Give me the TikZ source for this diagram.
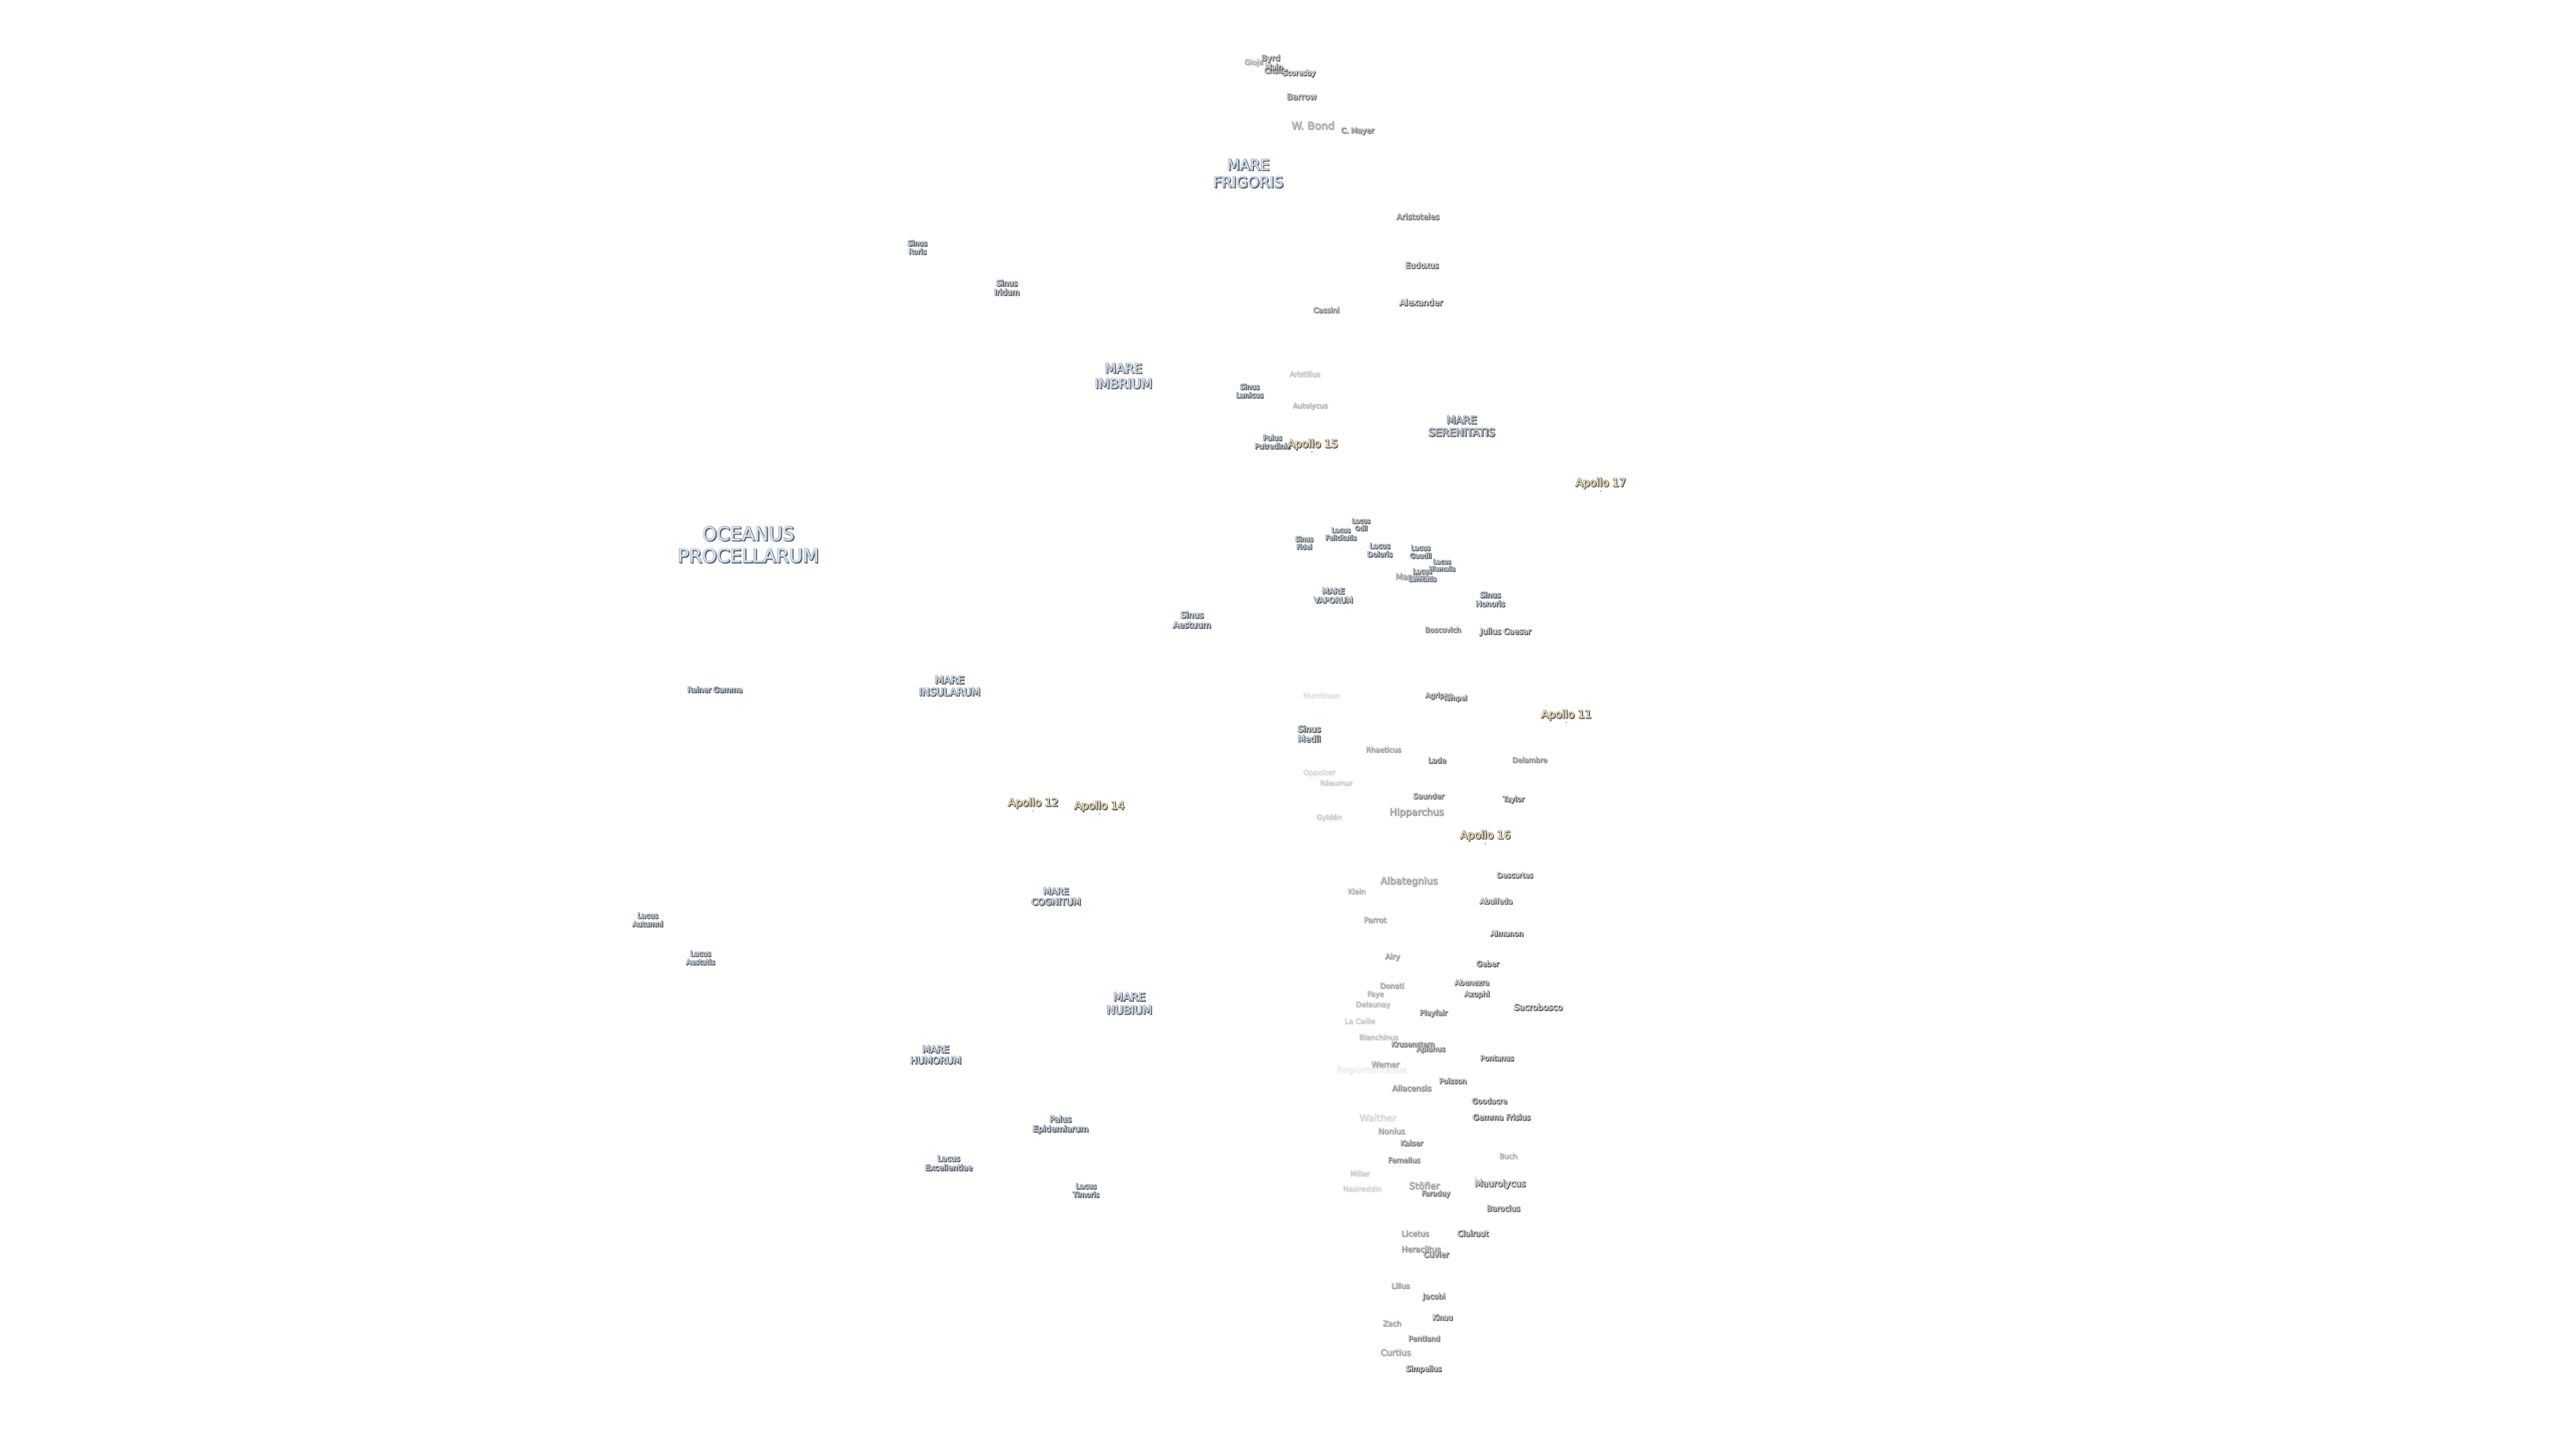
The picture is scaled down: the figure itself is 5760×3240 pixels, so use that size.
\documentclass[tikz,border=0pt]{standalone}
\usepackage{fontspec}
\setmainfont{DejaVu Sans}

\definecolor{marefill}{HTML}{CFE6FF}
\definecolor{apollofill}{HTML}{FFE2AE}
\definecolor{shade}{gray}{0.25}
\definecolor{edge}{gray}{0.55}

% sizes are given in pixels of the 5760 wide picture
\newcommand{\pxfont}[1]{\fontsize{\fpeval{#1*0.2845}}{\fpeval{#1*0.333}}\selectfont
  \edef\edgewd{\fpeval{round(220/#1,1)}}\edef\shadewd{\fpeval{round(110/#1,1)}}}
\newcommand{\lbl}[1]{\leavevmode
  \rlap{\kern0.5pt\raisebox{-0.5pt}{\color{shade}\addfontfeature{FakeBold=\shadewd}#1}}%
  \rlap{\color{edge}\addfontfeature{FakeBold=\edgewd}#1}#1}

\tikzset{
  crater/.style={font=\pxfont{#1}, text=white},
  mare/.style={font=\pxfont{#1}, text=marefill},
  apollo/.style={font=\pxfont{#1}, text=apollofill},
  sitedot/.style={circle, fill=shade!70!apollofill, minimum size=0.8pt, inner sep=0pt}
}

\begin{document}
\begin{tikzpicture}[x=0.01cm, y=-0.01cm, every node/.style={align=center, inner sep=0pt, xshift=-0.5pt, yshift=-0.5pt}]
  \path[use as bounding box, fill=white] (0,0) rectangle (5760,3240);

  % maria, sinus, lacus, palus
  \node[mare=42] (procellarum) at (1675, 1217) {\lbl{OCEANUS}\\\lbl{PROCELLARUM}};
  \node[mare=33] (frigoris) at (2793, 387) {\lbl{MARE}\\\lbl{FRIGORIS}};
  \node[mare=29] (imbrium) at (2514, 840) {\lbl{MARE}\\\lbl{IMBRIUM}};
  \node[mare=23.6, text=marefill!75!gray] (serenitatis) at (3270, 952) {\lbl{MARE}\\\lbl{SERENITATIS}};
  \node[mare=23] (insularum) at (2125, 1533) {\lbl{MARE}\\\lbl{INSULARUM}};
  \node[mare=20] (cognitum) at (2363, 2004) {\lbl{MARE}\\\lbl{COGNITUM}};
  \node[mare=25] (nubium) at (2527, 2243) {\lbl{MARE}\\\lbl{NUBIUM}};
  \node[mare=21] (humorum) at (2094, 2358) {\lbl{MARE}\\\lbl{HUMORUM}};
  \node[mare=17.4] (vaporum) at (2983, 1331) {\lbl{MARE}\\\lbl{VAPORUM}};
  \node[mare=16] (roris) at (2053, 552) {\lbl{Sinus}\\\lbl{Roris}};
  \node[mare=17.4] (iridum) at (2253, 642) {\lbl{Sinus}\\\lbl{Iridum}};
  \node[mare=16] (lunicus) at (2796, 873) {\lbl{Sinus}\\\lbl{Lunicus}};
  \node[mare=14.6] (fidei) at (2918, 1213) {\lbl{Sinus}\\\lbl{Fidei}};
  \node[mare=17] (honoris) at (3334, 1339) {\lbl{Sinus}\\\lbl{Honoris}};
  \node[mare=19] (aestuum) at (2667, 1385) {\lbl{Sinus}\\\lbl{Aestuum}};
  \node[mare=19] (medii) at (2929, 1640) {\lbl{Sinus}\\\lbl{Medii}};
  \node[mare=16] (putredinis) at (2847, 987) {\lbl{Palus}\\\lbl{Putredinis}};
  \node[mare=18.6] (epidemiarum) at (2373, 2514) {\lbl{Palus}\\\lbl{Epidemiarum}};
  \node[mare=14] (odii) at (3045, 1172) {\lbl{Lacus}\\\lbl{Odii}};
  \node[mare=14.6] (felicitatis) at (3000, 1193) {\lbl{Lacus}\\\lbl{Felicitatis}};
  \node[mare=16] (doloris) at (3087, 1229) {\lbl{Lacus}\\\lbl{Doloris}};
  \node[mare=15] (gaudii) at (3178, 1233) {\lbl{Lacus}\\\lbl{Gaudii}};
  \node[mare=13.5] (hiemalis) at (3226, 1263) {\lbl{Lacus}\\\lbl{Hiemalis}};
  \node[crater=18, opacity=.35] (manilius) at (3159, 1288) {\lbl{Manilius}};
  \node[mare=14.6] (lenitatis) at (3182, 1285) {\lbl{Lacus}\\\lbl{Lenitatis}};
  \node[mare=16] (autumni) at (1450, 2056) {\lbl{Lacus}\\\lbl{Autumni}};
  \node[mare=16] (aestatis) at (1568, 2141) {\lbl{Lacus}\\\lbl{Aestatis}};
  \node[mare=17.4] (excellentiae) at (2123, 2600) {\lbl{Lacus}\\\lbl{Excellentiae}};
  \node[mare=16] (timoris) at (2430, 2661) {\lbl{Lacus}\\\lbl{Timoris}};
  \node[mare=16.4] (reiner) at (1600, 1541) {\lbl{Reiner Gamma}};

  % landing sites
  \node[sitedot] (dot11) at (3504, 1614) {};
  \node[sitedot] (dot12) at (2312, 1812) {};
  \node[sitedot] (dot14) at (2460, 1818) {};
  \node[sitedot] (dot15) at (2935, 1009) {};
  \node[sitedot] (dot16) at (3323, 1885) {};
  \node[sitedot] (dot17) at (3581, 1097) {};
  \node[apollo=24] (apollo11) at (3504, 1598) {\lbl{Apollo 11}};
  \node[apollo=24] (apollo12) at (2312, 1795) {\lbl{Apollo 12}};
  \node[apollo=24] (apollo14) at (2460, 1802) {\lbl{Apollo 14}};
  \node[apollo=24] (apollo15) at (2937, 993) {\lbl{Apollo 15}};
  \node[apollo=24] (apollo16) at (3323, 1868) {\lbl{Apollo 16}};
  \node[apollo=24] (apollo17) at (3581, 1080) {\lbl{Apollo 17}};

  % north
  \node[crater=16.5, opacity=.25] (gioja) at (2805, 139) {\lbl{Gioja}};
  \node[crater=18, opacity=.6] (byrd) at (2843, 130) {\lbl{Byrd}};
  \node[crater=16, opacity=.6] (challis) at (2855, 157) {\lbl{Challis}};
  \node[crater=16.5, opacity=.9] (main) at (2850, 148) {\lbl{Main}};
  \node[crater=16, opacity=1] (scoresby) at (2906, 163) {\lbl{Scoresby}};
  \node[crater=19, opacity=.6] (barrow) at (2912, 215) {\lbl{Barrow}};
  \node[crater=23.6, opacity=.28] (wbond) at (2937, 279) {\lbl{W. Bond}};
  \node[crater=16.7, opacity=.5] (cmayer) at (3037, 292) {\lbl{C. Mayer}};
  \node[crater=18, opacity=.55] (aristoteles) at (3172, 483) {\lbl{Aristoteles}};
  \node[crater=17.6, opacity=.95] (eudoxus) at (3181, 592) {\lbl{Eudoxus}};
  \node[crater=19, opacity=.9] (alexander) at (3179, 675) {\lbl{Alexander}};
  \node[crater=16.4, opacity=.45] (cassini) at (2967, 692) {\lbl{Cassini}};
  \node[crater=16, opacity=.15] (aristillus) at (2919, 835) {\lbl{Aristillus}};
  \node[crater=16, opacity=.2] (autolycus) at (2931, 907) {\lbl{Autolycus}};

  % centre
  \node[crater=16, opacity=.5] (boscovich) at (3228, 1407) {\lbl{Boscovich}};
  \node[crater=17.7, opacity=.85] (caesar) at (3368, 1412) {\lbl{Julius Caesar}};
  \node[crater=16, opacity=.07] (murchison) at (2956, 1554) {\lbl{Murchison}};
  \node[crater=16, opacity=.7] (agrippa) at (3220, 1555) {\lbl{Agrippa}};
  \node[crater=15, opacity=.85] (tempel) at (3255, 1561) {\lbl{Tempel}};
  \node[crater=16, opacity=.28] (rhaeticus) at (3095, 1675) {\lbl{Rhaeticus}};
  \node[crater=16.5, opacity=.7] (lade) at (3215, 1699) {\lbl{Lade}};
  \node[crater=16, opacity=.38] (delambre) at (3422, 1698) {\lbl{Delambre}};
  \node[crater=16, opacity=.09] (oppolzer) at (2951, 1727) {\lbl{Oppolzer}};
  \node[crater=16, opacity=.13] (reaumur) at (2989, 1749) {\lbl{Réaumur}};
  \node[crater=16.5, opacity=.6] (saunder) at (3196, 1779) {\lbl{Saunder}};
  \node[crater=16, opacity=.8] (taylor) at (3386, 1787) {\lbl{Taylor}};
  \node[crater=21.5, opacity=.33] (hipparchus) at (3169, 1816) {\lbl{Hipparchus}};
  \node[crater=16, opacity=.13] (gylden) at (2973, 1827) {\lbl{Gyldén}};

  % south
  \node[crater=21.6, opacity=.3] (albategnius) at (3152, 1970) {\lbl{Albategnius}};
  \node[crater=16, opacity=.22] (klein) at (3035, 1992) {\lbl{Klein}};
  \node[crater=16, opacity=1] (descartes) at (3389, 1956) {\lbl{Descartes}};
  \node[crater=16.3, opacity=.95] (abulfeda) at (3347, 2014) {\lbl{Abulfeda}};
  \node[crater=17, opacity=.27] (parrot) at (3076, 2056) {\lbl{Parrot}};
  \node[crater=16.5, opacity=1] (almanon) at (3371, 2086) {\lbl{Almanon}};
  \node[crater=17, opacity=.3] (airy) at (3115, 2139) {\lbl{Airy}};
  \node[crater=16.6, opacity=.85] (geber) at (3328, 2154) {\lbl{Geber}};
  \node[crater=16.3, opacity=.75] (abenezra) at (3293, 2196) {\lbl{Abenezra}};
  \node[crater=16.3, opacity=.27] (donati) at (3114, 2203) {\lbl{Donati}};
  \node[crater=16, opacity=.22] (faye) at (3077, 2223) {\lbl{Faye}};
  \node[crater=16.6, opacity=.8] (azophi) at (3304, 2223) {\lbl{Azophi}};
  \node[crater=16.2, opacity=.18] (delaunay) at (3071, 2246) {\lbl{Delaunay}};
  \node[crater=19, opacity=.85] (sacrobosco) at (3441, 2251) {\lbl{Sacrobosco}};
  \node[crater=16.4, opacity=.55] (playfair) at (3207, 2265) {\lbl{Playfair}};
  \node[crater=16, opacity=.13] (lacaille) at (3042, 2282) {\lbl{La Caille}};
  \node[crater=16, opacity=.17] (blanchinus) at (3084, 2318) {\lbl{Blanchinus}};
  \node[crater=16, opacity=.5] (krusenstern) at (3161, 2334) {\lbl{Krusenstern}};
  \node[crater=16, opacity=.55] (apianus) at (3201, 2346) {\lbl{Apianus}};
  \node[crater=16.2, opacity=.9] (pontanus) at (3349, 2365) {\lbl{Pontanus}};
  \node[crater=17.4, opacity=.27] (werner) at (3099, 2379) {\lbl{Werner}};
  \node[crater=20, opacity=.04] (regiomontanus) at (3068, 2392) {\lbl{Regiomontanus}};
  \node[crater=16.2, opacity=.75] (poisson) at (3250, 2416) {\lbl{Poisson}};
  \node[crater=17.6, opacity=.38] (allacensis) at (3158, 2432) {\lbl{Allacensis}};
  \node[crater=16.3, opacity=.85] (goodacre) at (3332, 2461) {\lbl{Goodacre}};
  \node[crater=17.4, opacity=.85] (gemma) at (3359, 2497) {\lbl{Gemma Frisius}};
  \node[crater=21.3, opacity=.09] (walther) at (3082, 2498) {\lbl{Walther}};
  \node[crater=17.4, opacity=.27] (nonius) at (3113, 2528) {\lbl{Nonius}};
  \node[crater=16.4, opacity=.5] (kaiser) at (3158, 2555) {\lbl{Kaiser}};
  \node[crater=16, opacity=.22] (buch) at (3374, 2584) {\lbl{Buch}};
  \node[crater=16, opacity=.42] (fernelius) at (3141, 2593) {\lbl{Fernelius}};
  \node[crater=16, opacity=.13] (miller) at (3042, 2623) {\lbl{Miller}};
  \node[crater=20, opacity=.85] (maurolycus) at (3356, 2647) {\lbl{Maurolycus}};
  \node[crater=20.7, opacity=.3] (stofler) at (3186, 2650) {\lbl{Stöfler}};
  \node[crater=16, opacity=.1] (nasireddin) at (3047, 2657) {\lbl{Nasireddin}};
  \node[crater=16, opacity=.6] (faraday) at (3212, 2669) {\lbl{Faraday}};
  \node[crater=17.5, opacity=.7] (barocius) at (3363, 2701) {\lbl{Barocius}};
  \node[crater=17.4, opacity=.3] (licetus) at (3166, 2757) {\lbl{Licetus}};
  \node[crater=17.6, opacity=.85] (clairaut) at (3295, 2757) {\lbl{Clairaut}};
  \node[crater=17.4, opacity=.35] (heraclitus) at (3179, 2792) {\lbl{Heraclitus}};
  \node[crater=17.6, opacity=.6] (cuvier) at (3213, 2804) {\lbl{Cuvier}};
  \node[crater=16, opacity=.3] (lilius) at (3133, 2874) {\lbl{Lilius}};
  \node[crater=16.8, opacity=.55] (jacobi) at (3208, 2899) {\lbl{Jacobi}};
  \node[crater=16, opacity=.95] (kinau) at (3227, 2945) {\lbl{Kinau}};
  \node[crater=16.5, opacity=.27] (zach) at (3114, 2958) {\lbl{Zach}};
  \node[crater=16.2, opacity=.5] (pentland) at (3186, 2992) {\lbl{Pentland}};
  \node[crater=19, opacity=.27] (curtius) at (3122, 3023) {\lbl{Curtius}};
  \node[crater=16.3, opacity=.9] (simpelius) at (3185, 3061) {\lbl{Simpelius}};

\end{tikzpicture}
\end{document}
